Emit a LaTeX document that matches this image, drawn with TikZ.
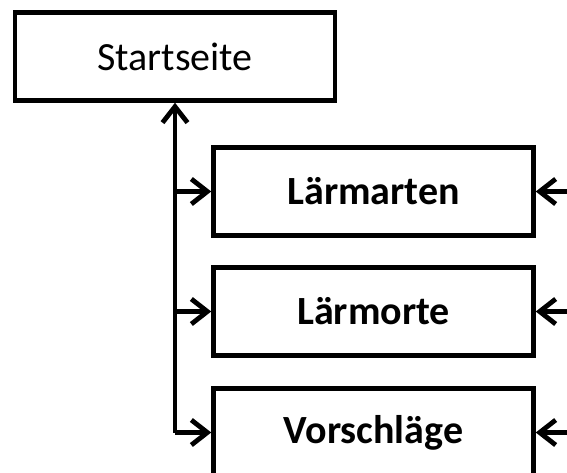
\documentclass[tikz,border=0pt]{standalone}
\usepackage{fontspec}
\setmainfont{Carlito}
\usetikzlibrary{arrows.meta}
\begin{document}
\begin{tikzpicture}[x=1pt,y=-1pt,
  page/.style={draw=black,line width=4.5pt,minimum width=320pt,minimum height=88pt,
    inner sep=0pt,font=\fontsize{40}{42}\selectfont},
  sub/.style={page,font=\fontsize{40}{42}\selectfont\bfseries},
  link/.style={line width=4.8pt,-{Straight Barb[length=16pt,width=25pt,line width=4.8pt]}}]
\useasboundingbox (0,0) rectangle (567,472);
\clip (0,0) rectangle (567,472);
% pages of the site
\node[page] (start) at (175,56.5) {Startseite};
\node[sub] (arten) at (373.5,191.5) {Lärmarten};
\node[sub] (orte) at (373.5,311.5) {Lärmorte};
\node[sub] (vor) at (373.5,432.5) {Vorschläge};
% left trunk back to the start page
\coordinate (trunk) at (175,432.5);
\draw[link] (trunk) -- (start.south);
\draw[link] (trunk) -- (vor.west);
\draw[link] (trunk |- arten.west) -- (arten.west);
\draw[link] (trunk |- orte.west) -- (orte.west);
% incoming links from the right edge
\coordinate (r1) at (580,191.5);
\coordinate (r2) at (580,311.5);
\coordinate (r3) at (580,432.5);
\draw[link] (r1) -- (arten.east);
\draw[link] (r2) -- (orte.east);
\draw[link] (r3) -- (vor.east);
\end{tikzpicture}
\end{document}
